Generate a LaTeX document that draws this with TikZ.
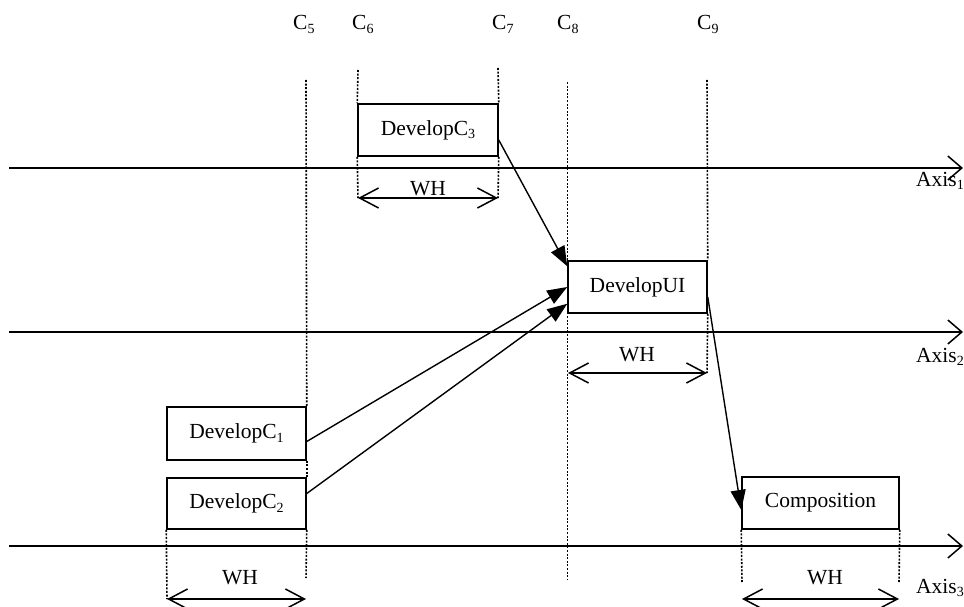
\documentclass[tikz,border=0pt]{standalone}
\usepackage{fontspec}
\setmainfont{Liberation Serif}
\usetikzlibrary{arrows.meta}
% lowered, smaller index digit
\newcommand\subidx[1]{\raisebox{-0.35ex}{\fontsize{14}{14}\selectfont #1}}
\begin{document}
\begin{tikzpicture}[x=1pt,y=-1pt,
  lbl/.style={font=\fontsize{21.5}{25}\selectfont, inner sep=0pt},
  task/.style={draw, line width=1.5pt, inner sep=0pt, font=\fontsize{21.5}{25}\selectfont},
  guide/.style={line width=1.6pt, dash pattern=on 2pt off 1.6pt},
  axisline/.style={line width=1.5pt, -{Straight Barb[length=14pt,width=24pt]}},
  span/.style={line width=1.5pt, {Straight Barb[length=19pt,width=20pt]}-{Straight Barb[length=19pt,width=20pt]}},
  flow/.style={line width=1.4pt, -{Triangle[length=20pt,width=15pt]}},
]
\useasboundingbox (0,0) rectangle (964,607);

% column labels
\node[lbl, anchor=base west] (lc5) at (293,30) {C\subidx{5}};
\node[lbl, anchor=base west] (lc6) at (352,30) {C\subidx{6}};
\node[lbl, anchor=base west] (lc7) at (492,30) {C\subidx{7}};
\node[lbl, anchor=base west] (lc8) at (557,30) {C\subidx{8}};
\node[lbl, anchor=base west] (lc9) at (697,30) {C\subidx{9}};

% task boxes
\node[task, minimum width=140pt, minimum height=52pt] (c3)   at (428,130)   {DevelopC\subidx{3}};
\node[task, minimum width=139pt, minimum height=52pt] (ui)   at (637.5,287) {DevelopUI};
\node[task, minimum width=139pt, minimum height=53pt] (c1)   at (236.5,433.5) {DevelopC\subidx{1}};
\node[task, minimum width=139pt, minimum height=51pt] (c2)   at (236.5,503.5) {DevelopC\subidx{2}};
\node[task, minimum width=157pt, minimum height=52pt] (comp) at (820.5,503) {Composition};

% guide end points
\coordinate (g5t) at (306,80);   \coordinate (g5b) at (306,578);
\coordinate (g6t) at (358,70);   \coordinate (g7t) at (498,68);
\coordinate (g8t) at (567.5,82); \coordinate (g8b) at (567.5,580);
\coordinate (g9t) at (707,80);
\coordinate (w3a) at (358,198);  \coordinate (w3b) at (498,198);
\coordinate (wua) at (568,373);  \coordinate (wub) at (707,373);
\coordinate (w1a) at (167,599);  \coordinate (w1b) at (306,599);
\coordinate (wca) at (742,599);  \coordinate (wcb) at (899,599);
\coordinate (gca) at (742,582);  \coordinate (gcb) at (899,582);

% dotted guides
\draw[guide] (g5t) -- (c1.north east);
\draw[guide] (c1.south east) -- (c2.north east);
\draw[guide] (c2.south east) -- (g5b);
\draw[guide] (g6t) -- (c3.north west);
\draw[guide] (c3.south west) -- (w3a);
\draw[guide] (g7t) -- (c3.north east);
\draw[guide] (c3.south east) -- (w3b);
\draw[guide] (g8t) -- (g8b);
\draw[guide] (g9t) -- (ui.north east);
\draw[guide] (ui.south east) -- (wub);
\draw[guide] (c2.south west) -- (w1a);
\draw[guide] (comp.south west) -- (gca);
\draw[guide] (comp.south east) -- (gcb);

% axes
\coordinate (a1s) at (9,168); \coordinate (a1e) at (963,168);
\coordinate (a2s) at (9,332); \coordinate (a2e) at (963,332);
\coordinate (a3s) at (9,546); \coordinate (a3e) at (963,546);
\draw[axisline] (a1s) -- (a1e);
\draw[axisline] (a2s) -- (a2e);
\draw[axisline] (a3s) -- (a3e);
\node[lbl, anchor=base east] (ax1) at (964,186) {Axis\subidx{1}};
\node[lbl, anchor=base east] (ax2) at (964,362) {Axis\subidx{2}};
\node[lbl, anchor=base east] (ax3) at (964,593) {Axis\subidx{3}};

% window spans
\draw[span] (w3a) -- (w3b);
\draw[span] (wua) -- (wub);
\draw[span] (w1a) -- (w1b);
\draw[span] (wca) -- (wcb);
\node[lbl, anchor=base] (wh3) at (428,195) {WH};
\node[lbl, anchor=base] (whu) at (637,361) {WH};
\node[lbl, anchor=base] (wh1) at (240,584) {WH};
\node[lbl, anchor=base] (whc) at (825,584) {WH};

% dependencies
\draw[flow] ([yshift=-10pt]c3.east) -- ([yshift=-6pt]ui.north west);
\draw[flow] ([yshift=-8pt]c1.east) -- (ui.west);
\draw[flow] ([yshift=10pt]c2.east) -- ([yshift=10pt]ui.south west);
\draw[flow] ([yshift=-10pt]ui.east) -- ([yshift=-7pt]comp.west);
\end{tikzpicture}
\end{document}
